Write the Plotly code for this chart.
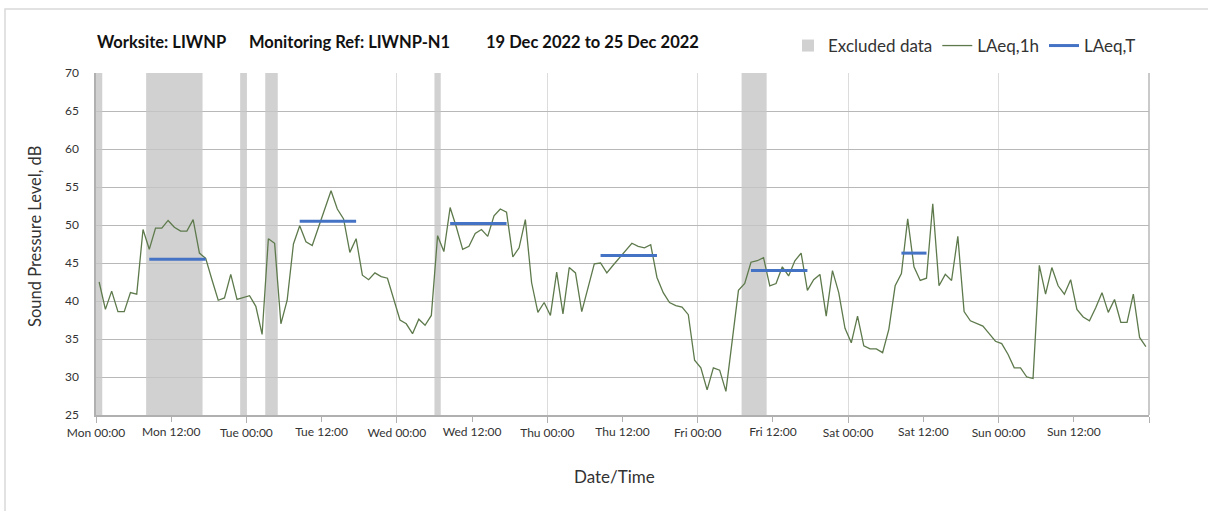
import datetime as dt
import plotly.graph_objects as go

# ---- data ----
start_date = dt.datetime(2022, 12, 19, 0, 0)

laeq_1h = [
    42.5, 38.9, 41.3, 38.6, 38.6, 41.1, 40.9, 49.4, 46.8, 49.6, 49.6, 50.6,
    49.7, 49.2, 49.2, 50.7, 46.3, 45.6, 42.8, 40.1, 40.4, 43.5, 40.2, 40.5,
    40.7, 39.3, 35.6, 48.2, 47.6, 37.0, 40.1, 47.5, 49.9, 47.8, 47.3, 49.7,
    52.2, 54.5, 52.1, 50.8, 46.4, 48.2, 43.4, 42.8, 43.7, 43.2, 43.0, 40.3,
    37.5, 37.0, 35.7, 37.6, 36.8, 38.1, 48.6, 46.5, 52.3, 49.7, 46.8, 47.2,
    48.9, 49.4, 48.5, 51.2, 52.1, 51.7, 45.8, 47.0, 50.7, 42.4, 38.5, 39.8,
    38.1, 43.8, 38.3, 44.4, 43.7, 38.6, 41.7, 44.9, 45.0, 43.7, 44.7, 45.7,
    46.6, 47.6, 47.2, 47.0, 47.4, 43.1, 41.1, 39.8, 39.4, 39.2, 38.2, 32.2,
    31.2, 28.3, 31.2, 30.9, 28.1, 34.9, 41.4, 42.3, 45.1, 45.3, 45.7, 42.0,
    42.3, 44.5, 43.3, 45.3, 46.3, 41.4, 42.8, 43.5, 38.0, 44.0, 41.1, 36.4,
    34.5, 38.0, 34.1, 33.7, 33.7, 33.2, 36.3, 42.0, 43.6, 50.8, 44.5, 42.7,
    43.0, 52.8, 42.0, 43.5, 42.7, 48.5, 38.6, 37.4, 37.1, 36.7, 35.7, 34.7,
    34.4, 33.0, 31.2, 31.2, 30.0, 29.8, 44.7, 40.9, 44.4, 42.0, 40.9, 42.8,
    38.9, 37.9, 37.4, 39.1, 41.1, 38.5, 40.2, 37.2, 37.2, 40.9, 35.2, 34.0,
]

# excluded periods (hours from start): start, end
excl_start_h = [0, 8, 23, 27, 54, 103]
excl_end_h = [1, 17, 24, 29, 55, 107]

# LAeq,T periods (hours from start) and levels
laeqT_start_h = [8.5, 32.5, 56.5, 80.5, 104.5, 128.5]
laeqT_end_h = [17.5, 41.5, 65.5, 89.5, 113.5, 132.5]
laeqT_val = [45.5, 50.5, 50.2, 46.0, 44.0, 46.3]

day_names = ["Mon", "Tue", "Wed", "Thu", "Fri", "Sat", "Sun"]

title_parts = ["Worksite: LIWNP", "Monitoring Ref: LIWNP-N1", "19 Dec 2022 to 25 Dec 2022"]
title_left_px = [95, 247, 484]

# ---- derived ----
def t(h):
    return start_date + dt.timedelta(hours=h)

x_1h = [t(i + 0.5) for i in range(len(laeq_1h))]

xT, yT = [], []
for s, e, v in zip(laeqT_start_h, laeqT_end_h, laeqT_val):
    xT += [t(s), t(e), None]
    yT += [v, v, None]

y_lo, y_hi = 25, 70
excl_x = [t(s) for s in excl_start_h]
excl_w = [(e - s) * 3600 * 1000 for s, e in zip(excl_start_h, excl_end_h)]

day_ticks = [t(24 * d) for d in range(8)]
day_text = [f"{n} 00:00" for n in day_names] + [""]
noon_ticks = [t(24 * d + 12) for d in range(7)]
noon_text = [f"{n} 12:00" for n in day_names]

FONT = "Lato, 'Open Sans', sans-serif"
TXT = "#333333"

fig = go.Figure()
fig.add_trace(go.Bar(
    x=excl_x, y=[y_hi - y_lo] * len(excl_x), base=y_lo, width=excl_w, offset=0,
    marker=dict(color="rgba(198,198,198,0.8)", line=dict(width=0)),
    name="Excluded data", hoverinfo="skip",
))
fig.add_trace(go.Scatter(
    x=x_1h, y=laeq_1h, mode="lines", name="LAeq,1h",
    line=dict(color="#5e7a4c", width=1.3),
))
fig.add_trace(go.Scatter(
    x=xT, y=yT, mode="lines", name="LAeq,T",
    line=dict(color="#4472c4", width=3),
))
# invisible trace to activate the overlay axis for noon labels
fig.add_trace(go.Scatter(x=[noon_ticks[0]], y=[None], xaxis="x2", showlegend=False,
                         hoverinfo="skip"))

L, R, T, B = 96, 59, 73, 96
W, H = 1208, 511
pw, ph = W - L - R, H - T - B

def px_x(x):
    return (x - L) / pw

def px_y(y):
    return (H - B - y) / ph

fig.update_layout(
    width=W, height=H,
    margin=dict(l=L, r=R, t=T, b=B, autoexpand=False),
    paper_bgcolor="white", plot_bgcolor="white",
    font=dict(family=FONT, color=TXT),
    barmode="overlay",
    showlegend=True,
    legend=dict(orientation="h", x=px_x(1141), xanchor="right", y=px_y(46),
                yanchor="middle", font=dict(size=17, color=TXT),
                itemwidth=30, bgcolor="rgba(0,0,0,0)", traceorder="normal"),
    xaxis=dict(
        type="date", range=[t(0), t(168)], tickmode="array",
        tickvals=day_ticks, ticktext=day_text, automargin=False,
        showgrid=True, gridcolor="#dcdcdc", gridwidth=1,
        showline=True, linecolor="#b0b0b0", linewidth=1.5,
        ticks="outside", ticklen=6, tickcolor="#b0b0b0",
        tickfont=dict(size=12, color=TXT),
        zeroline=False, mirror=False,
    ),
    xaxis2=dict(
        type="date", overlaying="x", matches="x", side="bottom", anchor="y",
        tickmode="array", tickvals=noon_ticks, ticktext=noon_text, automargin=False,
        showgrid=False, showline=False, zeroline=False,
        ticks="outside", ticklen=6, tickcolor="#b0b0b0",
        tickfont=dict(size=12, color=TXT),
    ),
    yaxis=dict(
        range=[y_lo, y_hi], dtick=5, tick0=25, automargin=False,
        showgrid=True, gridcolor="#b8b8b8", gridwidth=1,
        showline=True, linecolor="#b0b0b0", linewidth=1.5,
        ticks="", ticklabelstandoff=13,
        tickfont=dict(size=12, color=TXT),
        zeroline=False,
    ),
)

# right edge line of the plot area
fig.add_shape(type="line", xref="paper", yref="paper", x0=1, x1=1, y0=0, y1=1,
              line=dict(color="#b8b8b8", width=1.5))
# chart border (light)
fig.add_shape(type="rect", xref="paper", yref="paper",
              x0=px_x(5), x1=px_x(W + 20), y0=px_y(H + 20), y1=px_y(9),
              line=dict(color="#d9d9d9", width=1.5), layer="below")

# axis titles
fig.add_annotation(text="Date/Time", xref="paper", yref="paper",
                   x=px_x(614), y=px_y(476), xanchor="center", yanchor="middle",
                   showarrow=False, font=dict(size=17, color=TXT, family=FONT))
fig.add_annotation(text="Sound Pressure Level, dB", xref="paper", yref="paper",
                   x=px_x(35), y=px_y(237), xanchor="center", yanchor="middle",
                   textangle=-90, showarrow=False,
                   font=dict(size=16.5, color=TXT, family=FONT))

# title
for part, xl in zip(title_parts, title_left_px):
    fig.add_annotation(text=part, xref="paper", yref="paper",
                       x=px_x(xl), xanchor="left", y=px_y(42), yanchor="middle",
                       showarrow=False,
                       font=dict(size=16.5, color="#111111", family=FONT, weight="bold"))

fig.write_html("out.html", config={"displayModeBar": False},
               post_script="document.body.style.margin='0';")
